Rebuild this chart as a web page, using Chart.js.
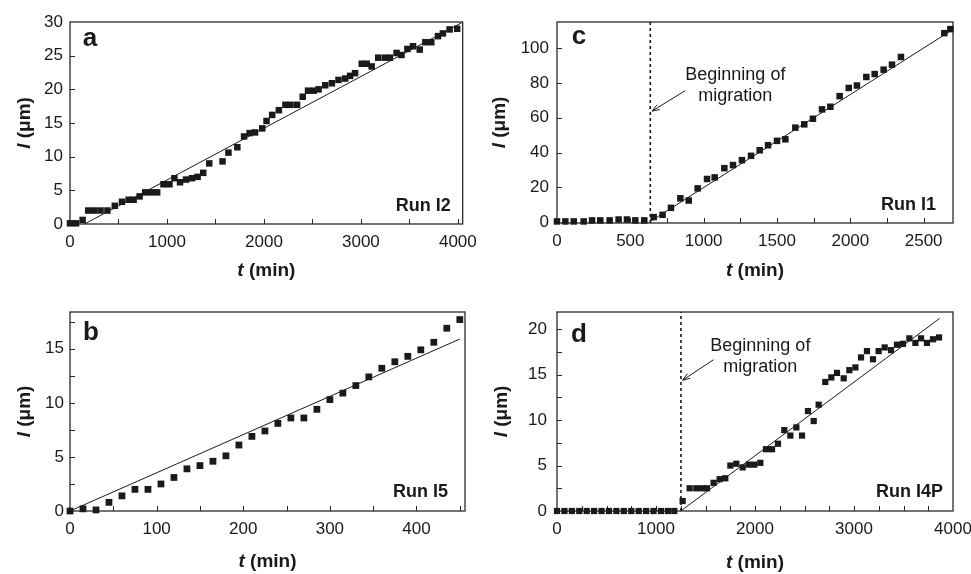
<!DOCTYPE html>
<html>
<head>
<meta charset="utf-8">
<script src="https://cdn.jsdelivr.net/npm/chart.js@4.4.0/dist/chart.umd.min.js"></script>
<style>
  html, body { margin: 0; padding: 0; background: #fff; overflow: hidden; }
  body { width: 971px; height: 574px; position: relative; }
  canvas { position: absolute; }
</style>
</head>
<body>
<canvas id="chart-a" width="485" height="287" style="left:0;top:0"></canvas>
<canvas id="chart-c" width="500" height="287" style="left:485px;top:0"></canvas>
<canvas id="chart-b" width="485" height="287" style="left:0;top:287px"></canvas>
<canvas id="chart-d" width="500" height="287" style="left:485px;top:287px"></canvas>
<script>
// Run I2 (panel a)
const runI2Time = [0, 62, 130, 188, 249, 315, 386, 462, 536, 605, 656, 718, 776, 838, 899, 964, 1026, 1077, 1135, 1197, 1258, 1316, 1374, 1436, 1573, 1634, 1726, 1795, 1853, 1908, 1983, 2027, 2085, 2154, 2222, 2274, 2342, 2400, 2455, 2513, 2564, 2632, 2701, 2769, 2838, 2889, 2940, 3009, 3060, 3111, 3179, 3248, 3299, 3368, 3419, 3480, 3538, 3607, 3665, 3726, 3795, 3846, 3915, 3993];
const runI2Length = [0.1, 0.1, 0.6, 2.0, 2.0, 2.0, 2.0, 2.7, 3.3, 3.6, 3.6, 4.1, 4.7, 4.7, 4.7, 5.9, 5.9, 6.8, 6.2, 6.6, 6.8, 7.0, 7.6, 9.0, 9.3, 10.6, 11.4, 13.0, 13.5, 13.6, 14.2, 15.3, 16.2, 16.9, 17.7, 17.7, 17.7, 18.9, 19.8, 19.8, 20.0, 20.6, 20.9, 21.4, 21.6, 22.0, 22.4, 23.8, 23.8, 23.4, 24.7, 24.7, 24.7, 25.4, 25.1, 26.0, 26.4, 25.9, 27.0, 27.0, 27.9, 28.3, 28.9, 29.0];
const runI2FitTime = [150, 4040];
const runI2FitLength = [0, 29.9];
const runI2XTicks = [0, 1000, 2000, 3000, 4000];
const runI2YTicks = [0, 5, 10, 15, 20, 25, 30];

// Run I5 (panel b)
const runI5Time = [0, 15, 30, 45, 60, 75, 90, 105, 120, 135, 150, 165, 180, 195, 210, 225, 240, 255, 270, 285, 300, 315, 330, 345, 360, 375, 390, 405, 420, 435, 450];
const runI5Length = [0, 0.2, 0.1, 0.8, 1.4, 2.0, 2.0, 2.5, 3.1, 3.9, 4.2, 4.6, 5.1, 6.1, 6.9, 7.4, 8.1, 8.6, 8.6, 9.4, 10.3, 10.9, 11.6, 12.4, 13.2, 13.8, 14.3, 14.9, 15.6, 16.9, 17.7];
const runI5FitTime = [0, 450];
const runI5FitLength = [0, 15.9];
const runI5XTicks = [0, 100, 200, 300, 400];
const runI5YTicks = [0, 5, 10, 15];

// Run I1 (panel c)
const runI1Time = [0, 57, 114, 182, 239, 295, 359, 420, 477, 534, 595, 659, 720, 777, 841, 898, 959, 1023, 1075, 1141, 1200, 1261, 1323, 1382, 1439, 1500, 1557, 1625, 1686, 1745, 1807, 1864, 1927, 1989, 2045, 2109, 2166, 2227, 2284, 2345, 2641, 2682];
const runI1Length = [0.4, 0.4, 0.4, 0.4, 1, 1, 1, 1.5, 1.5, 1, 1, 2.9, 4.2, 8.2, 13.7, 12.4, 19.4, 24.8, 25.7, 31, 32.8, 35.6, 38.1, 41.3, 44.2, 46.7, 47.6, 54.3, 56.2, 59.4, 64.8, 66.3, 72.4, 77.1, 78.5, 83.4, 85.1, 87.6, 90.5, 94.9, 108.6, 110.9];
const runI1FitTime = [636, 2695];
const runI1FitLength = [0.4, 110.5];
const runI1Onset = 636;
const runI1XTicks = [0, 500, 1000, 1500, 2000, 2500];
const runI1YTicks = [0, 20, 40, 60, 80, 100];

// Run I4P (panel d)
const runI4PTime = [0, 75, 150, 225, 300, 375, 450, 525, 600, 675, 750, 825, 900, 975, 1050, 1120, 1185, 1269, 1340, 1407, 1465, 1515, 1582, 1643, 1700, 1751, 1811, 1875, 1936, 1993, 2054, 2111, 2172, 2232, 2296, 2357, 2418, 2475, 2535, 2593, 2643, 2710, 2771, 2828, 2896, 2953, 3014, 3071, 3131, 3192, 3249, 3310, 3374, 3434, 3495, 3559, 3620, 3677, 3737, 3798, 3859];
const runI4PLength = [0, 0, 0, 0, 0, 0, 0, 0, 0, 0, 0, 0, 0, 0, 0, 0, 0, 1.1, 2.5, 2.5, 2.5, 2.5, 3.1, 3.5, 3.6, 5.0, 5.2, 4.8, 5.1, 5.1, 5.3, 6.8, 6.8, 7.4, 8.9, 8.3, 9.2, 8.3, 11.0, 9.9, 11.7, 14.2, 14.7, 15.2, 14.6, 15.5, 15.8, 16.9, 17.6, 16.7, 17.6, 18.0, 17.7, 18.3, 18.4, 19.0, 18.5, 19.0, 18.5, 18.9, 19.1];
const runI4PFitTime = [1250, 3866];
const runI4PFitLength = [0, 21.2];
const runI4POnset = 1252;
const runI4PXTicks = [0, 1000, 2000, 3000, 4000];
const runI4PYTicks = [0, 5, 10, 15, 20];

const FONT = '"Liberation Sans", Arial, Helvetica, sans-serif';
const INK = '#1a1a1a';

function pairs(xs, ys) {
  return xs.map((x, i) => ({ x, y: ys[i] }));
}

function drawParts(ctx, parts, size) {
  let total = 0;
  parts.forEach((p) => {
    ctx.font = `${p[1]} ${size}px ${FONT}`;
    total += ctx.measureText(p[0]).width;
  });
  let x = -total / 2;
  parts.forEach((p) => {
    ctx.font = `${p[1]} ${size}px ${FONT}`;
    ctx.fillText(p[0], x, 0);
    x += ctx.measureText(p[0]).width;
  });
}

const panelDecor = {
  id: 'panelDecor',
  beforeDatasetsDraw(chart, args, opts) {
    const { ctx, chartArea: a, scales: { x, y } } = chart;
    ctx.save();
    ctx.strokeStyle = '#2a2a2a';
    ctx.lineWidth = 1.3;
    const L = a.left, R = a.right, T = a.top, B = a.bottom;
    ctx.strokeRect(L, T, R - L, B - T);

    // inward tick marks
    ctx.lineWidth = 1;
    ctx.beginPath();
    const x0 = Math.ceil(x.min / opts.xMinor);
    for (let i = x0; i * opts.xMinor <= x.max; i++) {
      const px = Math.round(x.getPixelForValue(i * opts.xMinor)) + 0.5;
      if (px <= L + 1 || px >= R - 1) continue;
      ctx.moveTo(px, B);
      ctx.lineTo(px, B - 5);
    }
    const y0 = Math.ceil(y.min / opts.yMinor);
    for (let i = y0; i * opts.yMinor <= y.max; i++) {
      const py = Math.round(y.getPixelForValue(i * opts.yMinor)) + 0.5;
      if (py <= T + 1 || py >= B - 1) continue;
      ctx.moveTo(L, py);
      ctx.lineTo(L + 5, py);
    }
    ctx.stroke();
    ctx.restore();
  },
  afterDraw(chart, args, opts) {
    const { ctx, chartArea: a, scales: { x, y } } = chart;
    ctx.save();
    ctx.fillStyle = INK;
    ctx.textBaseline = 'middle';

    // panel letter
    ctx.textAlign = 'center';
    ctx.font = `bold 26px ${FONT}`;
    ctx.fillText(opts.letter, a.left + opts.letterAt[0], a.top + opts.letterAt[1]);

    // run label
    ctx.textAlign = 'right';
    ctx.font = `bold 18px ${FONT}`;
    ctx.fillText(opts.run, a.right - opts.runAt[0], a.bottom - opts.runAt[1]);

    // axis titles
    ctx.textAlign = 'left';
    ctx.save();
    ctx.translate((a.left + a.right) / 2, a.bottom + opts.xTitleGap);
    drawParts(ctx, [['t', 'italic bold'], [' (min)', 'bold']], 19);
    ctx.restore();
    ctx.save();
    ctx.translate(a.left - opts.yTitleGap, (a.top + a.bottom) / 2);
    ctx.rotate(-Math.PI / 2);
    drawParts(ctx, [['l', 'italic bold'], [' (\u03bcm)', 'bold']], 19);
    ctx.restore();

    // onset annotation
    if (opts.note) {
      ctx.textAlign = 'center';
      ctx.font = `18px ${FONT}`;
      const nx = x.getPixelForValue(opts.note.x);
      opts.note.lines.forEach((line, i) => {
        ctx.fillText(line, nx, y.getPixelForValue(opts.note.y[i]));
      });
      const fx = x.getPixelForValue(opts.note.from[0]);
      const fy = y.getPixelForValue(opts.note.from[1]);
      const tx = x.getPixelForValue(opts.note.to[0]);
      const ty = y.getPixelForValue(opts.note.to[1]);
      ctx.strokeStyle = INK;
      ctx.lineWidth = 1;
      ctx.beginPath();
      ctx.moveTo(fx, fy);
      ctx.lineTo(tx, ty);
      const ang = Math.atan2(ty - fy, tx - fx);
      ctx.moveTo(tx - 8 * Math.cos(ang - 0.35), ty - 8 * Math.sin(ang - 0.35));
      ctx.lineTo(tx, ty);
      ctx.lineTo(tx - 8 * Math.cos(ang + 0.35), ty - 8 * Math.sin(ang + 0.35));
      ctx.stroke();
    }
    ctx.restore();
  }
};

function makePanel(id, p) {
  const datasets = [
    {
      type: 'scatter',
      data: pairs(p.time, p.length),
      pointStyle: 'rect',
      pointRadius: p.marker,
      backgroundColor: INK,
      borderWidth: 0,
      clip: false
    },
    {
      type: 'line',
      data: pairs(p.fitTime, p.fitLength),
      showLine: true,
      borderColor: INK,
      borderWidth: 1,
      pointRadius: 0,
      tension: 0
    }
  ];
  if (p.onset !== undefined) {
    datasets.push({
      type: 'line',
      data: pairs([p.onset, p.onset], [p.yMin, p.yMax]),
      showLine: true,
      borderColor: INK,
      borderWidth: 1.6,
      borderDash: [3, 3],
      pointRadius: 0
    });
  }

  const tickFont = { family: FONT, size: 17 };
  const plain = (v) => String(v);
  return new Chart(document.getElementById(id), {
    type: 'scatter',
    data: { datasets },
    plugins: [panelDecor],
    options: {
      responsive: false,
      animation: false,
      events: [],
      layout: { padding: { left: 0, top: p.padTop, right: p.padRight, bottom: 0 } },
      plugins: {
        legend: { display: false },
        tooltip: { enabled: false },
        panelDecor: p.decor
      },
      scales: {
        x: {
          type: 'linear',
          min: p.xMin,
          max: p.xMax,
          grid: { display: false, drawTicks: false },
          border: { display: false },
          ticks: { color: INK, font: tickFont, padding: 8, maxRotation: 0, autoSkip: false, callback: plain },
          afterBuildTicks: (s) => { s.ticks = p.xTicks.map((v) => ({ value: v })); },
          afterFit: (s) => { s.height = p.xHeight; }
        },
        y: {
          type: 'linear',
          min: p.yMin,
          max: p.yMax,
          grid: { display: false, drawTicks: false },
          border: { display: false },
          ticks: { color: INK, font: tickFont, padding: p.yPad, autoSkip: false, callback: plain },
          afterBuildTicks: (s) => { s.ticks = p.yTicks.map((v) => ({ value: v })); },
          afterFit: (s) => { s.width = p.yWidth; }
        }
      }
    }
  });
}

makePanel('chart-a', {
  time: runI2Time, length: runI2Length, fitTime: runI2FitTime, fitLength: runI2FitLength,
  xTicks: runI2XTicks, yTicks: runI2YTicks, xMin: 0, xMax: 4050, yMin: 0, yMax: 30,
  marker: 4.6, padTop: 22, padRight: 20, xHeight: 63, yWidth: 70, yPad: 7,
  decor: { xMinor: 500, yMinor: 5, letter: 'a', letterAt: [20, 17], run: 'Run I2', runAt: [12, 18], xTitleGap: 47, yTitleGap: 45 }
});

makePanel('chart-c', {
  time: runI1Time, length: runI1Length, fitTime: runI1FitTime, fitLength: runI1FitLength, onset: runI1Onset,
  xTicks: runI1XTicks, yTicks: runI1YTicks, xMin: 0, xMax: 2700, yMin: -0.5, yMax: 115,
  marker: 4.6, padTop: 22, padRight: 32, xHeight: 64, yWidth: 72, yPad: 8,
  decor: {
    xMinor: 250, yMinor: 20, letter: 'c', letterAt: [22, 15], run: 'Run I1', runAt: [17, 18], xTitleGap: 48, yTitleGap: 57,
    note: { lines: ['Beginning of', 'migration'], x: 1216, y: [84.8, 72.4], from: [875, 75.6], to: [648, 63.8] }
  }
});

makePanel('chart-b', {
  time: runI5Time, length: runI5Length, fitTime: runI5FitTime, fitLength: runI5FitLength,
  xTicks: runI5XTicks, yTicks: runI5YTicks, xMin: 0, xMax: 456, yMin: 0, yMax: 18.4,
  marker: 4.8, padTop: 25, padRight: 20, xHeight: 63, yWidth: 70, yPad: 6,
  decor: { xMinor: 50, yMinor: 2.5, letter: 'b', letterAt: [21, 21], run: 'Run I5', runAt: [17, 19], xTitleGap: 51, yTitleGap: 45 }
});

makePanel('chart-d', {
  time: runI4PTime, length: runI4PLength, fitTime: runI4PFitTime, fitLength: runI4PFitLength, onset: runI4POnset,
  xTicks: runI4PXTicks, yTicks: runI4PYTicks, xMin: 0, xMax: 4000, yMin: 0, yMax: 21.9,
  marker: 4.4, padTop: 25, padRight: 32, xHeight: 63, yWidth: 72, yPad: 10,
  decor: {
    xMinor: 250, yMinor: 2.5, letter: 'd', letterAt: [22, 23], run: 'Run I4P', runAt: [10, 19], xTitleGap: 52, yTitleGap: 55,
    note: { lines: ['Beginning of', 'migration'], x: 2054, y: [18.2, 15.8], from: [1582, 16.65], to: [1269, 14.4] }
  }
});
</script>
</body>
</html>
